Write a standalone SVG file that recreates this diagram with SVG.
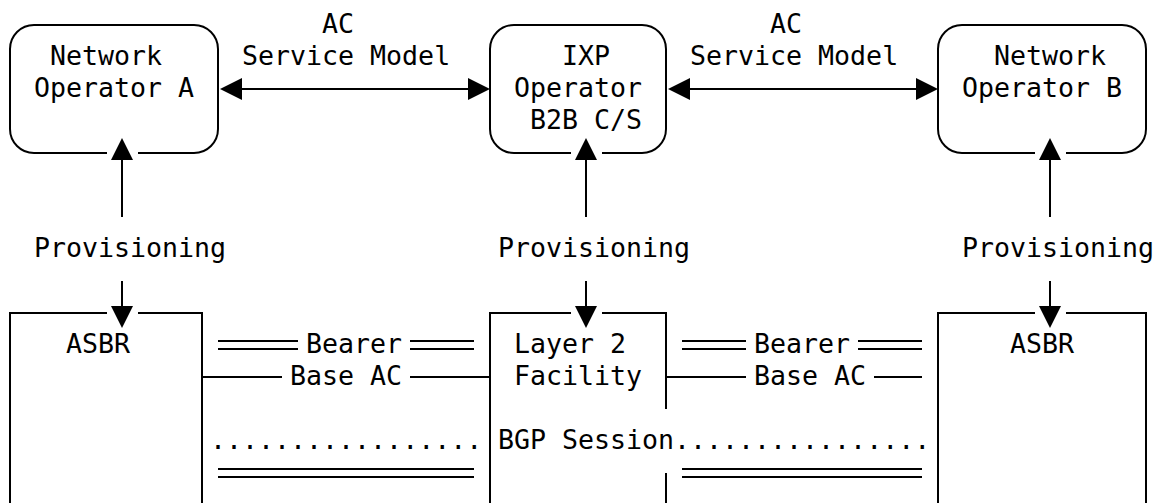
<svg xmlns="http://www.w3.org/2000/svg" width="1156" height="503" viewBox="0 0 1156 503">
<style>
  .t { font-family: "DejaVu Sans Mono", "Liberation Mono", monospace; font-size: 26.6px; fill: #000; }
  .ln { fill: none; stroke: #000; stroke-width: 2; }
  .arr { fill: none; stroke: #000; stroke-width: 2; marker-end: url(#ah); }
  .arr2 { fill: none; stroke: #000; stroke-width: 2; marker-start: url(#ah); marker-end: url(#ah); }
</style>
<defs>
  <marker id="ah" viewBox="0 0 22 22" refX="0" refY="11" markerWidth="22" markerHeight="22" markerUnits="userSpaceOnUse" orient="auto-start-reverse">
    <path d="M0,0 L22,11 L0,22 z" fill="#000"/>
  </marker>
</defs>
<rect width="1156" height="503" fill="#fff"/>

<g id="nodeOperatorA">
  <path class="ln" d="M138,153 H194 A24,24 0 0 0 218,129 V49 A24,24 0 0 0 194,25 H34 A24,24 0 0 0 10,49 V129 A24,24 0 0 0 34,153 H107"/>
  <text class="t" x="50" y="65">Network</text>
  <text class="t" x="34" y="97">Operator A</text>
</g>
<g id="nodeIXPOperator">
  <path class="ln" d="M602,153 H642 A24,24 0 0 0 666,129 V49 A24,24 0 0 0 642,25 H514 A24,24 0 0 0 490,49 V129 A24,24 0 0 0 514,153 H571"/>
  <text class="t" x="562" y="65">IXP</text>
  <text class="t" x="514" y="97">Operator</text>
  <text class="t" x="530" y="129">B2B C/S</text>
</g>
<g id="nodeOperatorB">
  <path class="ln" d="M1066,153 H1122 A24,24 0 0 0 1146,129 V49 A24,24 0 0 0 1122,25 H962 A24,24 0 0 0 938,49 V129 A24,24 0 0 0 962,153 H1035"/>
  <text class="t" x="994" y="65">Network</text>
  <text class="t" x="962" y="97">Operator B</text>
</g>
<g id="nodeASBRA">
  <path class="ln" d="M10,505 V313 H107 M138,313 H202 V505"/>
  <text class="t" x="66" y="353">ASBR</text>
</g>
<g id="nodeLayer2">
  <path class="ln" d="M490,505 V313 H571 M602,313 H666 V409 M666,473 V505"/>
  <text class="t" x="514" y="353">Layer 2</text>
  <text class="t" x="514" y="385">Facility</text>
</g>
<g id="nodeASBRB">
  <path class="ln" d="M938,505 V313 H1035 M1066,313 H1146 V505"/>
  <text class="t" x="1010" y="353">ASBR</text>
</g>

<g id="connectors">
  <!-- AC service model arrows -->
  <line class="arr2" x1="242" y1="89" x2="468" y2="89"/>
  <text class="t" x="322" y="33">AC</text>
  <text class="t" x="242" y="65">Service Model</text>
  <line class="arr2" x1="690" y1="89" x2="916" y2="89"/>
  <text class="t" x="770" y="33">AC</text>
  <text class="t" x="690" y="65">Service Model</text>

  <!-- Provisioning -->
  <line class="arr" x1="122" y1="217" x2="122" y2="160"/>
  <line class="arr" x1="122" y1="281" x2="122" y2="306"/>
  <text class="t" x="34" y="257">Provisioning</text>
  <line class="arr" x1="586" y1="217" x2="586" y2="160"/>
  <line class="arr" x1="586" y1="281" x2="586" y2="306"/>
  <text class="t" x="498" y="257">Provisioning</text>
  <line class="arr" x1="1050" y1="217" x2="1050" y2="160"/>
  <line class="arr" x1="1050" y1="281" x2="1050" y2="306"/>
  <text class="t" x="962" y="257">Provisioning</text>

  <!-- Bearer -->
  <path class="ln" d="M218,341 H298 M218,349 H298 M410,341 H474 M410,349 H474"/>
  <text class="t" x="306" y="353">Bearer</text>
  <path class="ln" d="M682,341 H746 M682,349 H746 M858,341 H922 M858,349 H922"/>
  <text class="t" x="754" y="353">Bearer</text>

  <!-- Base AC -->
  <path class="ln" d="M202,377 H282 M410,377 H490"/>
  <text class="t" x="290" y="385">Base AC</text>
  <path class="ln" d="M666,377 H746 M874,377 H922"/>
  <text class="t" x="754" y="385">Base AC</text>

  <!-- BGP Session -->
  <text class="t" x="210" y="449">.................</text>
  <text class="t" x="498" y="449">BGP Session</text>
  <text class="t" x="674" y="449">................</text>

  <!-- lower double lines -->
  <path class="ln" d="M218,469 H474 M218,477 H474 M682,469 H922 M682,477 H922"/>
</g>
</svg>
